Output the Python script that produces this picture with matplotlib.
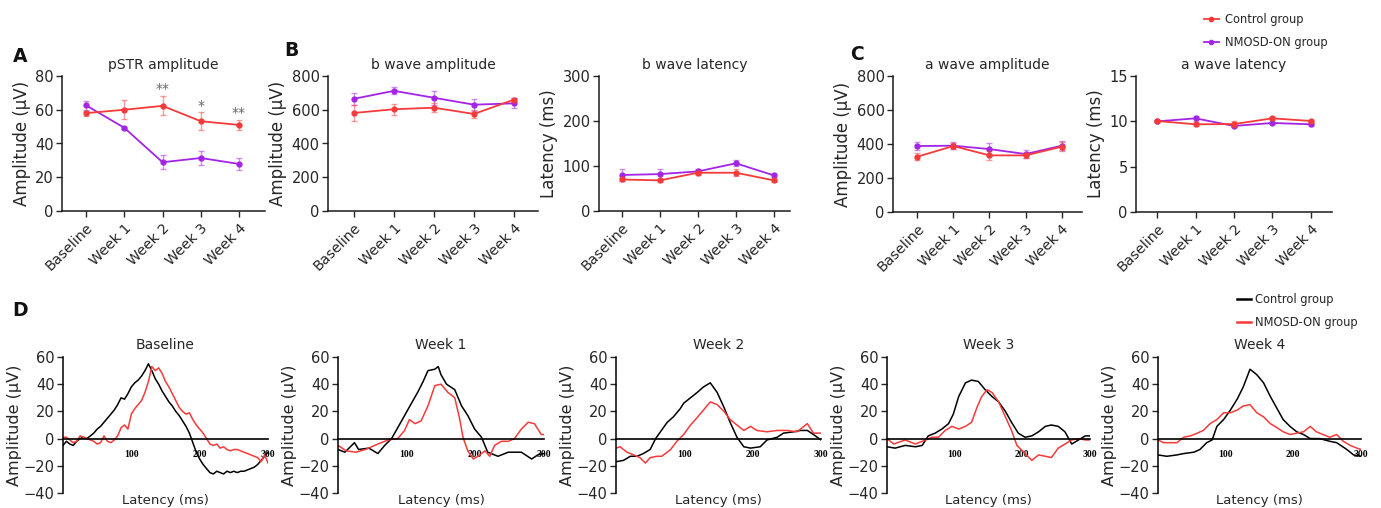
import numpy as np
import matplotlib
matplotlib.use("Agg")
import matplotlib.pyplot as plt
from matplotlib.lines import Line2D
from matplotlib.colors import to_rgba

plt.rcParams['font.family'] = ['DejaVu Sans']
plt.rcParams['axes.unicode_minus'] = True

RED = '#F53A3A'
PURPLE = '#A424E6'
TXT = '#262626'

weeks = ["Baseline", "Week 1", "Week 2", "Week 3", "Week 4"]

# ---- top row : means and error bars (control / NMOSD-ON) ----
pstr_ctrl = [58, 60, 62.3, 53.2, 51]
pstr_ctrl_err = [1.5, 5.7, 5.7, 5.2, 3.1]
pstr_nmo = [62.6, 49.3, 28.9, 31.4, 27.9]
pstr_nmo_err = [2.5, 0.5, 4, 4.3, 3.5]
pstr_stars = ["", "", "**", "*", "**"]

bamp_ctrl = [581, 603, 612, 575, 660]
bamp_ctrl_err = [45, 33, 28, 25, 10]
bamp_nmo = [665, 712, 671, 630, 638]
bamp_nmo_err = [35, 20, 40, 35, 30]

blat_ctrl = [70, 68, 85, 85, 68]
blat_ctrl_err = [4, 4, 4, 8, 4]
blat_nmo = [80, 82, 88, 106, 79]
blat_nmo_err = [13, 12, 6, 7, 4]

aamp_ctrl = [325, 388, 333, 333, 384]
aamp_ctrl_err = [20, 20, 25, 15, 25]
aamp_nmo = [388, 390, 370, 341, 390]
aamp_nmo_err = [22, 20, 38, 22, 28]

alat_ctrl = [10.04, 9.67, 9.7, 10.33, 10.04]
alat_ctrl_err = [0.1, 0.2, 0.3, 0.15, 0.15]
alat_nmo = [10.0, 10.33, 9.49, 9.82, 9.67]
alat_nmo_err = [0.1, 0.3, 0.15, 0.15, 0.15]

# ---- bottom row : averaged pSTR waveforms ----
base_t = list(range(0, 301, 5))
base_ctrl = [-5, -2, -4, -5, -2, 0, 1, 0, 2, 4,
             7, 9, 12, 15, 18, 21, 25, 30, 29, 33,
             38, 41, 43, 46, 50, 55, 50, 44, 40, 35,
             31, 27, 24, 20, 17, 13, 9, 4, -3, -10,
             -15, -19, -22, -25, -26, -24, -25, -26, -24, -25,
             -24, -25, -24, -24, -23, -22, -21, -19, -16, -13,
             -10]
base_nmo = [1, 1, -1, -3, -2, 2, 1, 0, -1, -2,
            -4, -3, 2, -2, -3, -1, 2, 8, 10, 7,
            18, 22, 25, 28, 34, 42, 53, 50, 52, 48,
            42, 38, 33, 28, 23, 20, 18, 19, 14, 10,
            7, 4, 0, -4, -5, -4, -7, -6, -8, -9,
            -8, -8, -9, -10, -11, -12, -13, -14, -17, -12,
            -18]

w1_ctrl_t = [0, 10, 24, 30, 45, 58, 68, 78, 87, 97, 107, 116, 124, 131, 141,
             146, 150, 158, 170, 180, 189, 199, 209, 218, 233, 248, 267, 282, 291, 300]
w1_ctrl = [-8, -10, -3, -8, -7, -11, -5, 0, 8, 17, 26, 34, 42, 50, 51,
           53, 47, 40, 36, 24, 17, 7, 1, -10, -13, -10, -10, -15, -12, -11]
w1_nmo_t = [0, 12, 26, 40, 58, 73, 87, 97, 104, 112, 121, 131, 141, 150, 160, 170,
            177, 182, 189, 197, 204, 214, 221, 228, 238, 248, 257, 267, 277, 286, 296, 300]
w1_nmo = [-5, -9, -10, -8, -4, -1, 0, 6, 14, 11, 13, 24, 39, 40, 34, 30,
          15, 1, -9, -15, -13, -9, -13, -5, -2, -2, 0, 7, 12, 11, 3, 3]

w2_ctrl_t = [0, 11, 21, 31, 40, 50, 58, 65, 75, 84, 94, 99, 109, 119, 128, 138,
             148, 158, 167, 177, 187, 197, 211, 221, 236, 245, 260, 270, 280, 289, 300]
w2_ctrl = [-17, -16, -13, -13, -11, -8, 0, 5, 12, 16, 22, 26, 30, 34, 38, 41,
           34, 23, 12, 1, -6, -7, -6, -1, 1, 4, 5, 6, 6, 3, -1]
w2_nmo_t = [0, 6, 16, 26, 35, 43, 50, 60, 67, 80, 89, 99, 109, 118, 128,
            138, 148, 158, 167, 177, 187, 197, 206, 221, 236, 250, 265, 280, 289, 300]
w2_nmo = [-7, -6, -10, -12, -14, -18, -14, -13, -13, -8, -2, 3, 10, 15, 21,
          27, 25, 20, 14, 10, 6, 9, 6, 5, 6, 6, 5, 11, 4, 4]

w3_ctrl_t = [0, 12, 27, 42, 52, 61, 71, 81, 91, 98, 106, 116, 125, 135, 145, 155,
             165, 175, 184, 194, 204, 214, 224, 234, 243, 253, 263, 273, 283, 293, 300]
w3_ctrl = [-6, -7, -5, -6, -5, 2, 4, 7, 11, 18, 31, 41, 43, 42, 36, 31,
           27, 20, 12, 4, 1, 2, 5, 9, 10, 9, 5, -4, -1, 2, 2]
w3_nmo_t = [0, 10, 27, 42, 57, 66, 76, 86, 96, 106, 116, 125, 133, 140, 148, 155,
            165, 175, 184, 192, 204, 214, 224, 234, 243, 253, 263, 273, 283, 293, 300]
w3_nmo = [0, -4, -1, -4, -1, 1, 1, 6, 9, 7, 9, 12, 23, 31, 36, 34,
          27, 16, 6, -5, -11, -16, -12, -13, -14, -7, -4, -1, 0, -1, -1]

w4_ctrl_t = [0, 13, 28, 38, 53, 62, 72, 80, 87, 97, 107, 117, 126, 136, 146,
             156, 166, 176, 185, 195, 205, 215, 225, 239, 254, 264, 279, 289, 300]
w4_ctrl = [-12, -13, -12, -11, -10, -8, -3, -1, 9, 14, 21, 29, 38, 51, 47,
           41, 31, 22, 14, 9, 5, 3, 0, 0, -2, -3, -8, -12, -13]
w4_nmo_t = [0, 8, 18, 28, 38, 48, 58, 67, 77, 87, 97, 107, 117, 126, 136, 146,
            156, 166, 176, 185, 195, 205, 215, 225, 234, 244, 254, 264, 274, 284, 294, 300]
w4_nmo = [-1, -3, -3, -3, 1, 2, 4, 6, 11, 14, 19, 19, 21, 24, 25, 19,
          16, 11, 8, 5, 3, 4, 5, 9, 5, 3, 1, 3, -2, -5, -7, -8]

W, H = 1381, 508
fig = plt.figure(figsize=(W / 100, H / 100), dpi=100)


def px_box(left, top, right, bottom):
    # rectangle given in pixels of the final image
    return [left / W, 1 - bottom / H, (right - left) / W, (bottom - top) / H]


def trend_panel(rect, title, ylabel, ylim, yticks, xlim, ctrl, ctrl_err, nmo, nmo_err):
    ax = fig.add_axes(rect)
    x = np.arange(len(weeks))
    ax.errorbar(x, nmo, yerr=nmo_err, color=PURPLE, ecolor=to_rgba(PURPLE, 0.5),
                elinewidth=1, capsize=2, capthick=1, lw=1.3, marker='o', ms=3.5, zorder=3)
    ax.errorbar(x, ctrl, yerr=ctrl_err, color=RED, ecolor=to_rgba(RED, 0.5),
                elinewidth=1, capsize=2, capthick=1, lw=1.3, marker='o', ms=3.5, zorder=4)
    ax.set_xlim(*xlim)
    ax.set_ylim(*ylim)
    ax.set_yticks(yticks)
    ax.set_xticks(x)
    ax.set_xticklabels(weeks, rotation=45, ha='right', rotation_mode='anchor')
    for s in ['top', 'right']:
        ax.spines[s].set_visible(False)
    for s in ['left', 'bottom']:
        ax.spines[s].set_linewidth(1.1)
        ax.spines[s].set_color('#1a1a1a')
    ax.tick_params(axis='y', direction='out', length=4, width=1, labelsize=10.5, colors=TXT, pad=2)
    ax.tick_params(axis='x', direction='out', length=4, width=1, labelsize=10.3, colors=TXT, pad=3)
    ax.set_ylabel(ylabel, fontsize=12, color=TXT, labelpad=3)
    ax.set_title(title, fontsize=10, color=TXT, pad=5)
    return ax


def wave_panel(rect, title, ctrl_t, ctrl_v, nmo_t, nmo_v):
    ax = fig.add_axes(rect)
    ax.plot(ctrl_t, ctrl_v, color='black', lw=1.1)
    ax.plot(nmo_t, nmo_v, color=RED, lw=1.1)
    ax.set_xlim(0, 300)
    ax.set_ylim(-40, 60)
    ax.set_yticks([-40, -20, 0, 20, 40, 60])
    ax.set_xticks([100, 200, 300])
    ax.spines['bottom'].set_position(('data', 0))
    ax.spines['bottom'].set_linewidth(1.2)
    ax.spines['left'].set_linewidth(1.1)
    for s in ['top', 'right']:
        ax.spines[s].set_visible(False)
    ax.tick_params(axis='y', direction='out', length=4, width=1, labelsize=10.5, colors=TXT, pad=2)
    ax.tick_params(axis='x', length=0, pad=8)
    for lab in ax.get_xticklabels():
        lab.set_fontfamily('Liberation Serif')
        lab.set_fontweight('bold')
        lab.set_fontsize(7)
    ax.set_ylabel("Amplitude (µV)", fontsize=11.5, color=TXT, labelpad=1)
    ax.set_title(title, fontsize=10, color=TXT, pad=6)
    ax.text(0.5, -0.055, "Latency (ms)", transform=ax.transAxes, ha='center', va='center',
            fontsize=9.5, color=TXT)
    return ax


# --- A ---
axA = trend_panel(px_box(62, 76, 265, 211), "pSTR amplitude", "Amplitude (µV)",
                  (0, 80), [0, 20, 40, 60, 80], (-0.63, 4.68),
                  pstr_ctrl, pstr_ctrl_err, pstr_nmo, pstr_nmo_err)
for i, st in enumerate(pstr_stars):
    if st:
        axA.text(i, pstr_ctrl[i] + pstr_ctrl_err[i] + 4, st, ha='center', va='center',
                 fontsize=10, color='#666666')

# --- B ---
trend_panel(px_box(328, 76, 538, 211), "b wave amplitude", "Amplitude (µV)",
            (0, 800), [0, 200, 400, 600, 800], (-0.65, 4.6),
            bamp_ctrl, bamp_ctrl_err, bamp_nmo, bamp_nmo_err)
trend_panel(px_box(599, 76, 790, 211), "b wave latency", "Latency (ms)",
            (0, 300), [0, 100, 200, 300], (-0.6, 4.42),
            blat_ctrl, blat_ctrl_err, blat_nmo, blat_nmo_err)

# --- C ---
trend_panel(px_box(893, 76, 1082, 212), "a wave amplitude", "Amplitude (µV)",
            (0, 800), [0, 200, 400, 600, 800], (-0.67, 4.56),
            aamp_ctrl, aamp_ctrl_err, aamp_nmo, aamp_nmo_err)
trend_panel(px_box(1136, 76, 1332, 212), "a wave latency", "Latency (ms)",
            (0, 15), [0, 5, 10, 15], (-0.55, 4.55),
            alat_ctrl, alat_ctrl_err, alat_nmo, alat_nmo_err)

# --- D ---
wave_panel(px_box(63, 357, 268, 493), "Baseline", base_t, base_ctrl, base_t, base_nmo)
wave_panel(px_box(338, 357, 544, 493), "Week 1", w1_ctrl_t, w1_ctrl, w1_nmo_t, w1_nmo)
wave_panel(px_box(616, 357, 821, 493), "Week 2", w2_ctrl_t, w2_ctrl, w2_nmo_t, w2_nmo)
wave_panel(px_box(887, 357, 1090, 493), "Week 3", w3_ctrl_t, w3_ctrl, w3_nmo_t, w3_nmo)
wave_panel(px_box(1158, 357, 1361, 493), "Week 4", w4_ctrl_t, w4_ctrl, w4_nmo_t, w4_nmo)

# panel letters
for lab, (px, py) in {"A": (20, 57), "B": (291, 50), "C": (857, 55), "D": (20, 311)}.items():
    fig.text(px / W, 1 - py / H, lab, fontsize=13.5, fontweight='bold', ha='center', va='center',
             color='#111111')

# legends
top_handles = [Line2D([], [], color=RED, marker='o', ms=3, lw=1.3),
               Line2D([], [], color=PURPLE, marker='o', ms=3, lw=1.3)]
fig.legend(top_handles, ["Control group", "NMOSD-ON group"], loc='upper left',
           bbox_to_anchor=(1204 / W, 1 - 13 / H), frameon=False, fontsize=8.3,
           handlelength=1.3, handletextpad=0.5, labelspacing=0.9, borderpad=0,
           borderaxespad=0, labelcolor=TXT)
bot_handles = [Line2D([], [], color='black', lw=1.8), Line2D([], [], color=RED, lw=1.8)]
fig.legend(bot_handles, ["Control group", "NMOSD-ON group"], loc='upper left',
           bbox_to_anchor=(1237 / W, 1 - 293 / H), frameon=False, fontsize=8.3,
           handlelength=1.2, handletextpad=0.4, labelspacing=0.9, borderpad=0,
           borderaxespad=0, labelcolor=TXT)

fig.savefig("out.png", dpi=100)
